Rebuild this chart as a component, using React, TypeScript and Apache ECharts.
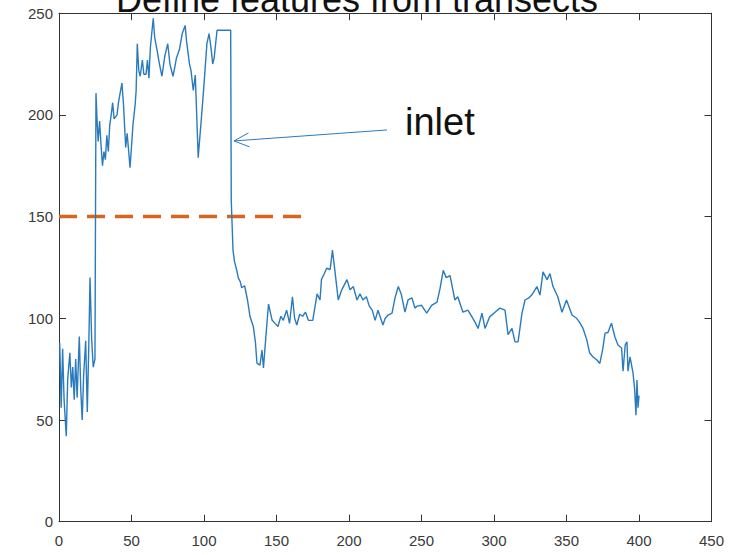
import React, { useEffect, useRef } from "react";
import * as echarts from "echarts";

// [distance, value] pairs, in three reaches
const lowReach: number[][] = [
  [0.5, 88], [1.5, 56], [2.5, 85], [3.5, 60], [5, 42], [6, 70], [7.5, 83], [8.5, 66],
  [9.5, 76], [10.5, 60], [11.5, 80], [12.5, 61], [14, 91], [15, 65], [16, 50], [17, 72],
  [18.4, 89], [19.5, 54], [20.5, 85], [21.4, 120], [22.5, 90], [23.6, 76], [24.8, 80],
];

const inletPlateau: number[][] = [
  [25.5, 210.7], [26.4, 195], [27, 187], [28, 197], [29, 185], [30, 175], [31, 182], [32, 178],
  [33, 190], [34, 182], [35, 195], [36, 200], [37, 206], [38, 198], [40, 200], [41, 206],
  [43.4, 215.6], [44.5, 205], [46, 184], [47, 191], [49, 174], [51, 195], [52.5, 205],
  [53.2, 212], [54, 235], [55, 222], [56, 219], [57.5, 227], [58.5, 220], [60, 220], [61, 227],
  [62, 218], [63, 233], [65, 247.5], [66, 238], [67.6, 232], [69, 226], [71, 219], [73, 229],
  [75, 235], [76.5, 225], [78.6, 219], [80, 224], [81, 228], [83, 232], [85, 240], [87, 244],
  [88, 236], [90, 225], [91, 222], [92.6, 212], [94, 219.6], [96, 179], [98.6, 202], [100, 215],
  [102, 235], [103.5, 240], [105, 232], [106, 225], [107, 228], [109, 241.6], [118.4, 241.6],
];

const seawardReach: number[][] = [
  [118.8, 158], [120, 133.5], [121, 128], [122.6, 123.6], [123.6, 120], [125, 118], [126, 115],
  [128, 116], [130, 109], [131.7, 101], [134, 96], [135.5, 88], [136.5, 78], [138.6, 77],
  [140, 84.4], [141, 75.6], [143, 94], [144.5, 107], [147, 99], [149, 97.5], [151, 96],
  [153, 101], [154.7, 99], [157, 104], [159, 97.5], [161, 110.6], [162.5, 100], [164, 96.7],
  [166, 102], [168, 101], [170, 103], [172, 99], [175, 99], [178, 112], [180, 109], [181, 119],
  [183, 122], [184.6, 124.6], [187, 124], [188.6, 133.5], [190, 125], [192.6, 109], [195, 114],
  [198.6, 119], [200.7, 114], [203, 115.6], [205.5, 109], [207.6, 112], [209.6, 109],
  [212, 110.6], [214, 106], [216, 104], [218, 99], [220, 104], [223.4, 96.7], [225, 100],
  [227, 101.6], [229.7, 102.5], [231.7, 110], [234, 115.6], [236, 112], [238.6, 103],
  [240.7, 109], [243.4, 110], [245.5, 105], [247, 106], [250, 106.4], [253.6, 102.5],
  [257, 106.4], [260.7, 108], [262.8, 114.7], [265, 123.6], [267, 120], [269.7, 121],
  [273, 109], [275, 110.6], [278.6, 103], [282, 104], [284.8, 100.7], [287, 98], [289, 95],
  [291.7, 102.5], [293.8, 95], [297, 100.7], [300.7, 103], [304, 105], [307.6, 104],
  [309.7, 92], [312.4, 95], [314.5, 88.4], [316.6, 88.4], [319.3, 102.5], [321.4, 109],
  [324, 110], [326, 111.4], [329.6, 115.6], [331.7, 111.4], [333.8, 122.8], [336.6, 119],
  [338.6, 122], [340.7, 115.6], [344, 110.6], [346.9, 103], [350, 109], [353.8, 101.6],
  [357, 100], [359, 98], [361.4, 95], [364, 89.4], [366, 82.9], [368.3, 81], [371, 79.5],
  [373, 77.8], [375, 85], [376.6, 92.7], [378.6, 93], [381, 97.6], [383.4, 90.8],
  [385.5, 86.9], [387, 86], [388, 85.4], [389, 74], [390.5, 87], [391.7, 88.4], [392.4, 74],
  [393.8, 81], [395.9, 73], [397, 65], [397.9, 52.4], [398.6, 69.7], [399.3, 56], [400, 62],
];

// threshold line (dashed orange)
const thresholdX = [0, 167.5];
const thresholdValue = 150;

// annotation arrow: [fromX, fromY, toX, toY] in data units
const inletArrow = [226.2, 192.6, 120.7, 187.2];
const inletLabel = "inlet";
const titleText = "Define features from transects";

const xMin = 0, xMax = 450, xStep = 50;
const yMin = 0, yMax = 250, yStep = 50;

const AXIS_COLOR = "#333333";
const LINE_BLUE = "#2a7bbd";
const FONT = "Liberation Sans, Arial, sans-serif";

export default function App() {
  const ref = useRef<HTMLDivElement>(null);

  useEffect(() => {
    if (!ref.current) return;
    const chart = echarts.init(ref.current, undefined, { renderer: "svg" });
    const transect = [...lowReach, ...inletPlateau, ...seawardReach];

    const baseX = {
      type: "value",
      min: xMin,
      max: xMax,
      interval: xStep,
      splitLine: { show: false },
      axisLine: { show: true, onZero: false, lineStyle: { color: AXIS_COLOR, width: 1 } },
      axisTick: { show: true, inside: true, length: 7, lineStyle: { color: AXIS_COLOR } },
    };
    const baseY = {
      type: "value",
      min: yMin,
      max: yMax,
      interval: yStep,
      splitLine: { show: false },
      axisLine: { show: true, onZero: false, lineStyle: { color: AXIS_COLOR, width: 1 } },
      axisTick: { show: true, inside: true, length: 7, lineStyle: { color: AXIS_COLOR } },
    };

    chart.setOption({
      animation: false,
      backgroundColor: "#ffffff",
      grid: { left: 59, right: 22.5, top: 13.2, bottom: 33.3, containLabel: false },
      xAxis: [
        {
          ...baseX,
          position: "bottom",
          axisLabel: { show: true, margin: 11, color: "#3a3a3a", fontSize: 15, fontFamily: FONT },
        },
        { ...baseX, position: "top", axisLabel: { show: false } },
      ],
      yAxis: [
        {
          ...baseY,
          position: "left",
          axisLabel: { show: true, margin: 6, color: "#3a3a3a", fontSize: 15, fontFamily: FONT },
        },
        { ...baseY, position: "right", axisLabel: { show: false } },
      ],
      series: [
        {
          type: "line",
          xAxisIndex: 0,
          yAxisIndex: 0,
          data: transect,
          showSymbol: false,
          symbol: "none",
          lineStyle: { color: LINE_BLUE, width: 1.4 },
          z: 3,
        },
        {
          type: "line",
          xAxisIndex: 0,
          yAxisIndex: 0,
          data: thresholdX.map((x) => [x, thresholdValue]),
          showSymbol: false,
          symbol: "none",
          lineStyle: { color: "#D9641E", width: 3.5, type: [18, 10], cap: "butt" },
          z: 2,
        },
        {
          type: "custom",
          xAxisIndex: 0,
          yAxisIndex: 0,
          clip: false,
          data: [inletArrow],
          dimensions: ["x1", "y1", "x2", "y2"],
          encode: { x: [0, 2], y: [1, 3] },
          renderItem: (params: any, api: any) => {
            const p1 = api.coord([api.value(0), api.value(1)]);
            const p2 = api.coord([api.value(2), api.value(3)]);
            const dx = p1[0] - p2[0];
            const dy = p1[1] - p2[1];
            const len = Math.sqrt(dx * dx + dy * dy);
            const ux = dx / len, uy = dy / len;
            const headLen = 15, headHalf = 7;
            const bx = p2[0] + ux * headLen, by = p2[1] + uy * headLen;
            const a1 = [bx - uy * headHalf, by + ux * headHalf];
            const a2 = [bx + uy * headHalf, by - ux * headHalf];
            return {
              type: "group",
              children: [
                {
                  type: "line",
                  shape: { x1: p1[0], y1: p1[1], x2: p2[0], y2: p2[1] },
                  style: { stroke: LINE_BLUE, lineWidth: 1 },
                },
                {
                  type: "polyline",
                  shape: { points: [a1, p2, a2] },
                  style: { stroke: LINE_BLUE, lineWidth: 1, fill: "none" },
                },
              ],
            };
          },
          z: 4,
        },
      ],
      graphic: [
        {
          type: "text",
          x: 405,
          y: 121.6,
          style: {
            text: inletLabel,
            fontSize: 38,
            fontFamily: FONT,
            fill: "#111111",
            align: "left",
            verticalAlign: "middle",
          },
          z: 10,
        },
        {
          type: "text",
          x: 357,
          y: -1,
          style: {
            text: titleText,
            fontSize: 36,
            fontFamily: FONT,
            fill: "#111111",
            align: "center",
            verticalAlign: "middle",
          },
          z: 10,
        },
      ],
    });

    return () => chart.dispose();
  }, []);

  return (
    <div
      ref={ref}
      style={{ position: "fixed", left: 0, top: 0, width: 734, height: 555, background: "#fff" }}
    />
  );
}
